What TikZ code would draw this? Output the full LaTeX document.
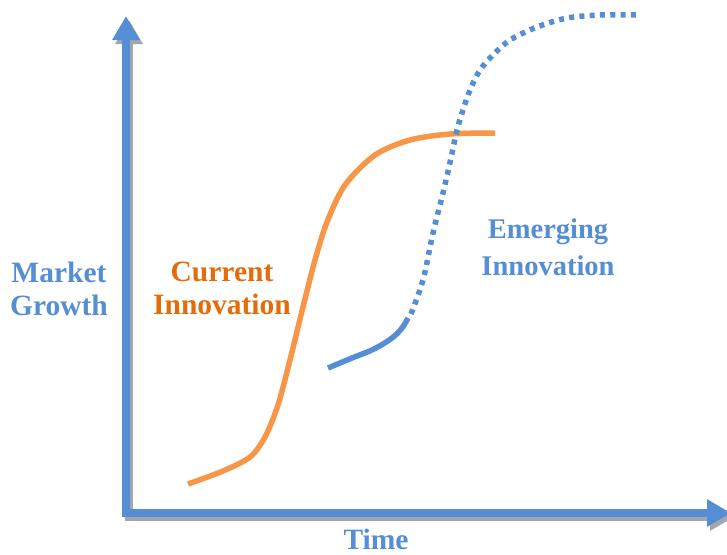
\documentclass[tikz,border=0pt]{standalone}
\usepackage{fontspec}
\setmainfont{Liberation Serif}
\usetikzlibrary{arrows.meta}
\definecolor{axisblue}{HTML}{558ED5}
\definecolor{shadowgray}{HTML}{A2A6AD}
\definecolor{curorange}{HTML}{F79646}
\definecolor{textorange}{HTML}{E46C0A}

\begin{document}
\begin{tikzpicture}[x=1pt,y=-1pt,
  axis/.style={line width=8pt, line cap=rect, -{Triangle[length=24pt,width=26pt]}},
  curve/.style={line width=5.5pt},
  lbl/.style={font=\bfseries\fontsize{29.5}{33}\selectfont, align=center, inner sep=0pt}]
\useasboundingbox (0,0) rectangle (727,554);

\coordinate (origin) at (126,513);
\coordinate (ytop) at (126,16);
\coordinate (xend) at (731,513);

% shadow under the axes
\draw[axis, shadowgray] ([shift={(3,4)}]origin) -- ([shift={(3,4)}]ytop);
\draw[axis, shadowgray] ([shift={(3,4)}]origin) -- ([shift={(3,4)}]xend);
\draw[axis, axisblue] (origin) -- (ytop);
\draw[axis, axisblue] (origin) -- (xend);

\node[lbl, text=axisblue] (market) at (59,289) {Market\\Growth};
\node[lbl, text=textorange] (current) at (222,288) {Current\\Innovation};
\node[lbl, text=axisblue, font=\bfseries\fontsize{28.5}{37}\selectfont] (emerging) at (548,247) {Emerging\\Innovation};
\node[lbl, text=axisblue, anchor=base] (time) at (376,549) {Time};

\draw[curve, curorange] plot[smooth, tension=0.5] coordinates
  {(188,484) (223,471) (250,457) (265,437) (278,405) (290,360) (303,307) (315,260) (327,222) (345,185) (375,155) (410,140) (450,134) (495,133)};
\draw[curve, axisblue] plot[smooth, tension=0.6] coordinates
  {(328,368) (352,358) (374,349) (392,338) (402,328) (408,318)};
\draw[curve, axisblue, dash pattern=on 5pt off 5.3pt] plot[smooth, tension=0.5] coordinates
  {(411,314) (423,280) (433,233) (443,193) (451,158) (457,130) (463,110) (470,90) (480,70) (493,55) (510,40) (537,27) (567,18) (600,15) (636,15)};

\end{tikzpicture}
\end{document}
